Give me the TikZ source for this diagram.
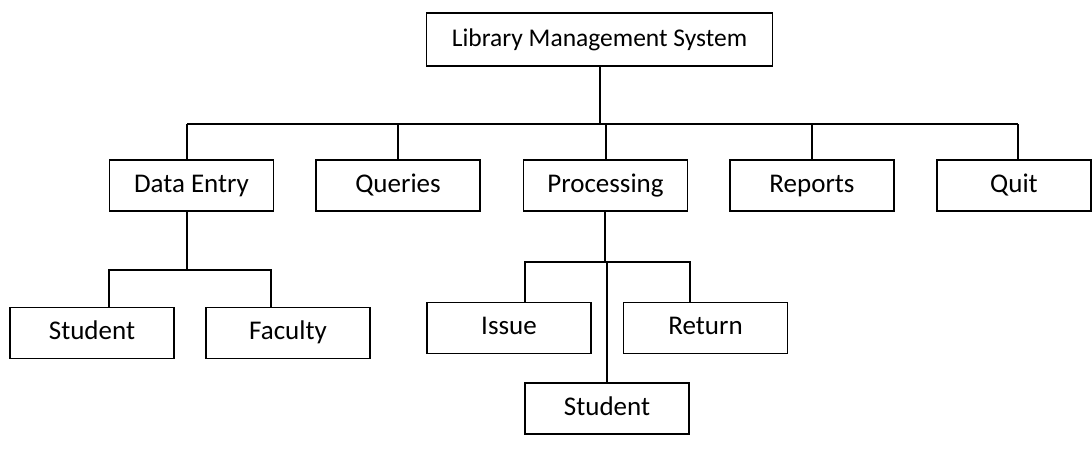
\documentclass[tikz,border=0pt]{standalone}
\usepackage{fontspec}
\setmainfont{Carlito}
\begin{document}
\begin{tikzpicture}[x=1pt,y=-1pt,
  box/.style={draw,line width=1.8pt,inner sep=0pt,minimum height=51pt,
    text height=19pt,text depth=6pt,
    font=\fontsize{27}{31}\selectfont},
  wide/.style={box,minimum width=164pt},
  link/.style={line width=1.8pt}]
\useasboundingbox (0,0) rectangle (1092,475);
% root
\node[box,minimum width=346pt,minimum height=53pt,font=\fontsize{25.5}{30}\selectfont] (top) at (599.5,39.5) {Library Management System};
% first level
\node[wide] (de) at (191.5,185.5) {Data Entry};
\node[wide] (qu) at (398,185.5) {Queries};
\node[wide] (pr) at (605.5,185.5) {Processing};
\node[wide] (re) at (812,185.5) {Reports};
\node[wide,minimum width=154pt] (qt) at (1014,185.5) {Quit};
% second level
\node[wide] (st1) at (92,333) {Student};
\node[wide] (fa) at (288,333) {Faculty};
\node[wide] (is) at (509,328) {Issue};
\node[wide] (rt) at (705.5,328) {Return};
\node[wide] (st2) at (607,408.5) {Student};
% junctions
\coordinate (jTop) at (600,124);
\coordinate (busL) at (187,124);
\coordinate (busR) at (1018,124);
\coordinate (jQu) at (398,124);
\coordinate (jPr) at (606,124);
\coordinate (jRe) at (812,124);
\coordinate (deL) at (109,270);
\coordinate (deR) at (271,270);
\coordinate (deM) at (187,270);
\coordinate (prL) at (525,262);
\coordinate (prR) at (690,262);
\coordinate (prM) at (605,262);
\coordinate (prS) at (607,262);
% root bus
\draw[link] (jTop |- top.south) -- (jTop);
\draw[link] (busL) -- (busR);
\draw[link] (busL) -- (busL |- de.north);
\draw[link] (jQu) -- (jQu |- qu.north);
\draw[link] (jPr) -- (jPr |- pr.north);
\draw[link] (jRe) -- (jRe |- re.north);
\draw[link] (busR) -- (busR |- qt.north);
% data entry branch
\draw[link] (deM |- de.south) -- (deM);
\draw[link] (deL |- st1.north) -- (deL) -- (deR) -- (deR |- fa.north);
% processing branch
\draw[link] (prM |- pr.south) -- (prM);
\draw[link] (prL |- is.north) -- (prL) -- (prR) -- (prR |- rt.north);
\draw[link] (prS) -- (prS |- st2.north);
\end{tikzpicture}
\end{document}
